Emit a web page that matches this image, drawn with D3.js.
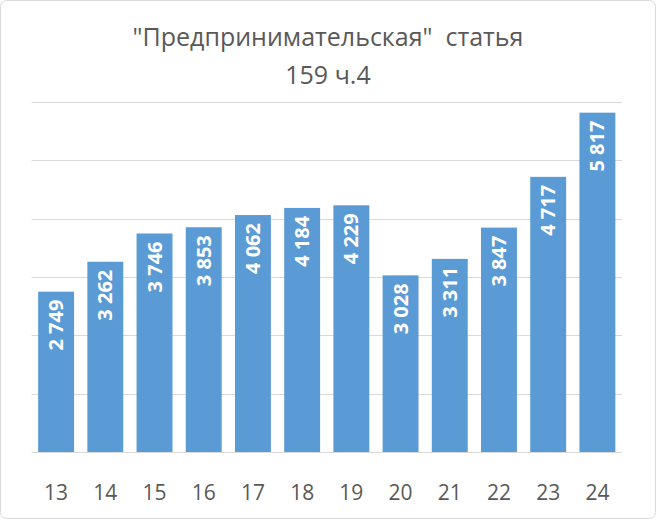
<!DOCTYPE html>
<html><head><meta charset="utf-8">
<script src="https://cdn.jsdelivr.net/npm/d3@7"></script>
<style>body{margin:0;background:#fff}</style></head>
<body><svg id="c" width="656" height="519"></svg>
<script>
const categories=["13","14","15","16","17","18","19","20","21","22","23","24"];
const values=[2749,3262,3746,3853,4062,4184,4229,3028,3311,3847,4717,5817];
const yTicks=[0,1000,2000,3000,4000,5000,6000];
const svg=d3.select("#c");
svg.append("rect").attr("x",0.5).attr("y",0.5).attr("width",655).attr("height",518).attr("rx",6).attr("fill","#fff").attr("stroke","#d9d9d9");
const x=d3.scaleBand().domain(categories).range([31.5,622]).paddingInner(0.27).paddingOuter(0.135);
const y=d3.scaleLinear().domain([0,6000]).range([452,102]);
svg.selectAll(".g").data(yTicks).enter().append("line").attr("x1",31.5).attr("x2",622)
 .attr("y1",d=>Math.round(y(d))+0.5).attr("y2",d=>Math.round(y(d))+0.5).attr("stroke","#d9d9d9");
svg.selectAll(".b").data(values).enter().append("rect").attr("x",(d,i)=>x(categories[i])).attr("width",x.bandwidth())
 .attr("y",d=>y(d)).attr("height",d=>452-y(d)).attr("fill","#5b9bd5");
const fmt=v=>d3.format(",")(v).replace(/,/g,"\u2009");
svg.selectAll(".l").data(values).enter().append("text")
 .attr("transform",(d,i)=>`translate(${x(categories[i])+x.bandwidth()/2+7},${y(d)+8}) rotate(-90)`)
 .attr("text-anchor","end").attr("fill","#fff").attr("font-family","Open Sans, sans-serif").attr("font-weight","bold").attr("font-size","20px")
 .text(d=>d3.format(",")(d).replace(/,/g," "));
svg.selectAll(".x").data(categories).enter().append("text").attr("x",d=>x(d)+x.bandwidth()/2).attr("y",500)
 .attr("text-anchor","middle").attr("fill","#595959").attr("font-family","Open Sans, sans-serif").attr("font-size","21px").text(d=>d);
const t=svg.append("text").attr("text-anchor","middle").attr("fill","#595959").attr("font-family","Open Sans, sans-serif").attr("font-size","25px");
t.append("tspan").attr("x",328).attr("y",46).attr("xml:space","preserve").text('"Предпринимательская"  статья');
t.append("tspan").attr("x",328).attr("y",84).text("159 ч.4");
</script></body></html>
